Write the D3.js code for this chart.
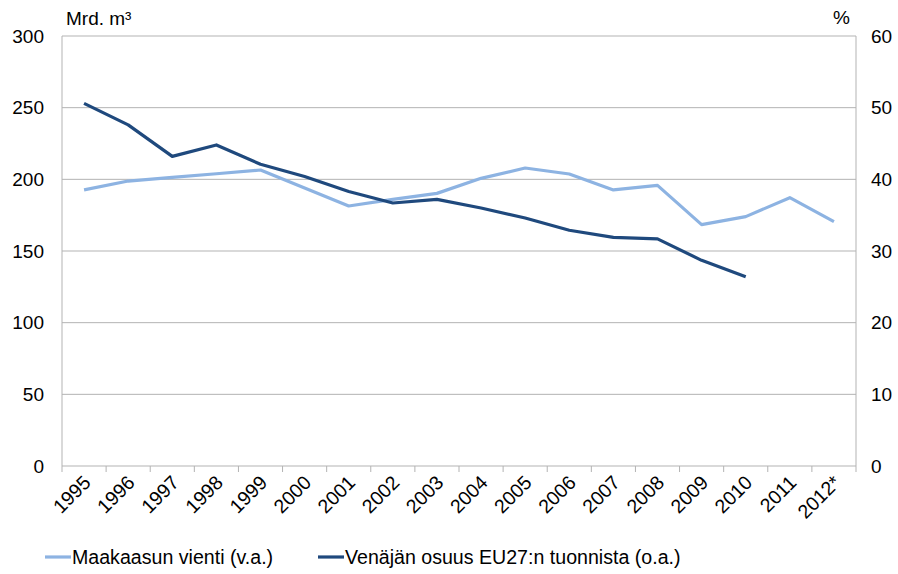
<!DOCTYPE html>
<html><head><meta charset="utf-8">
<script src="https://cdn.jsdelivr.net/npm/d3@7"></script>
<style>body{margin:0;background:#fff}svg{display:block;font-family:"Liberation Sans",Arial,sans-serif}</style>
</head><body><svg id="c" width="898" height="574"></svg>
<script>
const years = ["1995","1996","1997","1998","1999","2000","2001","2002","2003","2004","2005","2006","2007","2008","2009","2010","2011","2012*"];
const exportVals = [192.6,198.8,201.4,203.9,206.5,194,181.4,186,190.2,200.7,207.9,203.7,192.6,195.8,168.4,174,187.2,170.5];
const shareVals = [50.6,47.6,43.2,44.8,42.1,40.4,38.3,36.7,37.2,36.0,34.6,32.9,31.9,31.7,28.7,26.4];
const leftTicks = [0,50,100,150,200,250,300];
const rightTicks = [0,10,20,30,40,50,60];
const seriesNames = ["Maakaasun vienti (v.a.)","Venäjän osuus EU27:n tuonnista (o.a.)"];
const colors = ["#8db3e2","#1f497d"];

const svg = d3.select("#c");
const L=62,R=856,T=36,B=466;
const FS=19;
const x = d3.scaleBand().domain(years).range([L,R]);
const yL = d3.scaleLinear().domain([0,300]).range([B,T]);
const yR = d3.scaleLinear().domain([0,60]).range([B,T]);

svg.append("g").selectAll("line").data(leftTicks.filter(d=>d>0)).join("line")
  .attr("x1",L).attr("x2",R).attr("y1",d=>yL(d)).attr("y2",d=>yL(d))
  .attr("stroke","#b3b3b3").attr("stroke-width",1);
svg.append("line").attr("x1",L).attr("x2",L).attr("y1",T).attr("y2",B).attr("stroke","#b3b3b3");
svg.append("line").attr("x1",R).attr("x2",R).attr("y1",T).attr("y2",B).attr("stroke","#b3b3b3");
svg.append("line").attr("x1",L).attr("x2",R).attr("y1",B).attr("y2",B).attr("stroke","#b3b3b3");
const bounds = years.map(d=>x(d)).concat([R]);
svg.append("g").selectAll("line").data(bounds).join("line")
  .attr("x1",d=>d).attr("x2",d=>d).attr("y1",B).attr("y2",B+6).attr("stroke","#b3b3b3");

svg.append("g").selectAll("text").data(leftTicks).join("text")
  .attr("x",44).attr("y",d=>yL(d)).attr("dy","0.35em").attr("text-anchor","end")
  .attr("font-size",FS).attr("fill","#000").text(d=>d);
svg.append("g").selectAll("text").data(rightTicks).join("text")
  .attr("x",871).attr("y",d=>yR(d)).attr("dy","0.35em").attr("text-anchor","start")
  .attr("font-size",FS).attr("fill","#000").text(d=>d);
svg.append("g").selectAll("text").data(years).join("text")
  .attr("transform",d=>`translate(${x(d)+x.bandwidth()/2+3},${B+13}) rotate(-45)`)
  .attr("text-anchor","end").attr("dy","0.35em")
  .attr("font-size",19.5).attr("fill","#000").text(d=>d);

svg.append("text").attr("x",66).attr("y",25).attr("font-size",FS).text("Mrd. m³");
svg.append("text").attr("x",833).attr("y",24).attr("font-size",FS).text("%");

const px = d=>x(d)+x.bandwidth()/2;
svg.append("path").datum(exportVals)
  .attr("d",d3.line().x((d,i)=>px(years[i])).y(d=>yL(d)))
  .attr("fill","none").attr("stroke",colors[0]).attr("stroke-width",3.2).attr("stroke-linejoin","round");
svg.append("path").datum(shareVals)
  .attr("d",d3.line().x((d,i)=>px(years[i])).y(d=>yR(d)))
  .attr("fill","none").attr("stroke",colors[1]).attr("stroke-width",3.2).attr("stroke-linejoin","round");

const leg = [{x:45},{x:318}];
leg.forEach((l,i)=>{
  svg.append("line").attr("x1",l.x).attr("x2",l.x+26).attr("y1",557).attr("y2",557)
    .attr("stroke",colors[i]).attr("stroke-width",3.2);
  svg.append("text").attr("x",l.x+27).attr("y",557).attr("dy","0.35em")
    .attr("font-size",19.6).attr("fill","#000").text(seriesNames[i]);
});
</script></body></html>
